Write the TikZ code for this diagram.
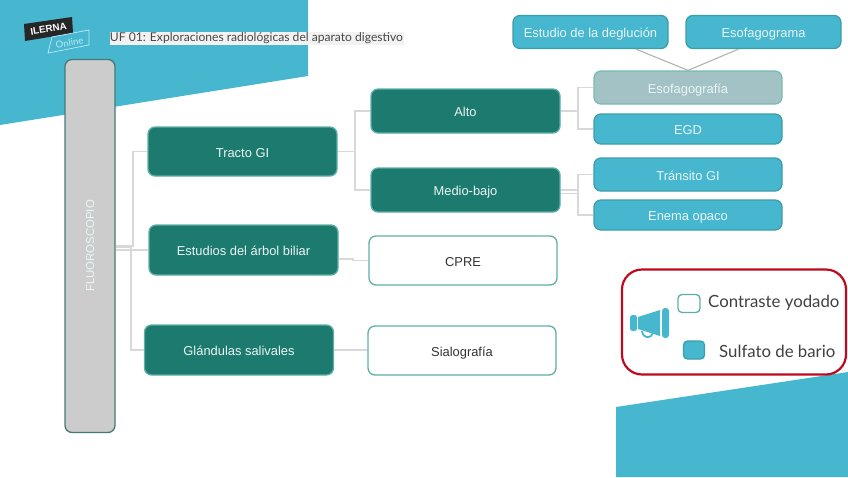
\documentclass[tikz,border=0pt]{standalone}
\usepackage{fontspec}
\setmainfont{Liberation Sans}
\newfontfamily\latof{Lato}
\usetikzlibrary{calc}
\definecolor{cyanbg}{HTML}{47B7CF}
\definecolor{tealbox}{HTML}{1D7A6E}
\definecolor{tealline}{HTML}{5FAFA6}
\definecolor{blueline}{HTML}{3A9FA8}
\definecolor{conngrey}{HTML}{D8D8D8}
\definecolor{txtlight}{HTML}{EAF5F5}
\definecolor{greyblue}{HTML}{A2C2C6}
\definecolor{legendred}{HTML}{BE0A1E}
\tikzset{
  x=1pt,y=-1pt,
  anybox/.style={rounded corners=7pt,line width=1.3pt,inner sep=0pt,text height=12pt,text depth=1pt,font=\fontsize{12.9}{14}\selectfont,text=txtlight},
  darkbox/.style={anybox,draw=tealline,fill=tealbox,minimum width=189pt},
  bluebox/.style={anybox,draw=blueline,fill=cyanbg,minimum width=188pt},
  whitebox/.style={anybox,draw=tealline,fill=white,minimum width=188pt,text=black!80,minimum height=49pt},
  conn/.style={draw=conngrey,line width=1.8pt},
  legendtxt/.style={font=\latof\fontsize{16.8}{18}\selectfont,text=black!75,inner sep=0pt}
}
\begin{document}
\begin{tikzpicture}
\useasboundingbox (0,0) rectangle (848,477);
\fill[cyanbg] (0,0) -- (308,0) -- (308,76) -- (0,125) -- cycle;
\fill[cyanbg] (616,407) -- (848,372) -- (848,477) -- (616,477) -- cycle;
% logo
\fill[black!85] (24,24) -- (72,17) -- (73,33) -- (25,41) -- cycle;
\node[rotate=9,text=white,inner sep=0pt,font=\bfseries\fontsize{9.8}{11}\selectfont] (ilerna) at (48.5,29) {ILERNA};
\draw[draw=cyan!25,line width=.7pt] (52,37) -- (89,30) -- (89,45) -- (48,53) -- cycle;
\node[rotate=10,text=cyan!25,inner sep=0pt,font=\latof\fontsize{9.5}{10}\selectfont] (online) at (69.5,42.5) {Online};
% header
\node[fill=black!5,text=black!72,inner sep=0pt,anchor=center,font=\latof\fontsize{12.1}{13}\selectfont,minimum width=294pt,minimum height=13pt] (title) at (256.5,38.5) {UF 01: Exploraciones radiológicas del aparato digestivo};
% main boxes
\node[anybox,draw=tealline!70!black,fill=black!20,rotate=90,minimum width=373pt,minimum height=50pt,text height=9pt,text depth=1pt,font=\fontsize{11.4}{14}\selectfont] (flu) at (90,246) {FLUOROSCOPIO};
\node[darkbox,minimum height=49pt] (tracto) at (242.5,151.5) {Tracto GI};
\node[darkbox,minimum height=50pt] (biliar) at (243.5,250) {Estudios del árbol biliar};
\node[darkbox,minimum height=50pt] (glandulas) at (239,350) {Glándulas salivales};
\node[darkbox,minimum height=44pt] (alto) at (465.5,111) {Alto};
\node[darkbox,minimum height=44pt] (medio) at (465.5,190) {Medio-bajo};
\node[whitebox] (cpre) at (463,260.5) {CPRE};
\node[whitebox] (sialo) at (462,350.5) {Sialografía};
\node[bluebox,minimum width=155pt,minimum height=33pt] (deglucion) at (590.5,32) {Estudio de la deglución};
\node[bluebox,minimum width=155pt,minimum height=33pt] (esofagograma) at (763.5,32) {Esofagograma};
\node[bluebox,draw=tealline!85,fill=greyblue,minimum height=33pt] (esofagografia) at (688,87.5) {Esofagografía};
\node[bluebox,minimum height=30pt] (egd) at (688,129) {EGD};
\node[bluebox,minimum height=33pt] (transito) at (688,174.5) {Tránsito GI};
\node[bluebox,minimum height=30pt] (enema) at (688,215) {Enema opaco};
% connectors
\draw[conn] (flu.south) -- ++(17,0) |- (tracto.west);
\draw[conn] ([yshift=-4pt]flu.south) -- (biliar.west);
\draw[conn] ([yshift=-1pt]flu.south) -- ++(15,0) |- (glandulas.west);
\draw[conn] (tracto.east) -- ++(17,0) coordinate (j1) (j1) |- (alto.west) (j1) |- (medio.west);
\draw[conn] (alto.east) -- ++(17,0) coordinate (j2) (j2) |- (esofagografia.west) (j2) |- (egd.west);
\draw[conn] (medio.east) -- ++(17,0) coordinate (j3) (j3) |- (transito.west) (j3) |- (enema.west);
\draw[conn,line width=1pt] ([yshift=-3pt]medio.east) -- ++(17,0);
\draw[conn] ([yshift=-9pt]biliar.east) -- ++(14,0) |- (cpre.west);
\draw[conn] (glandulas.east) -- (glandulas.east -| sialo.west);
\draw[draw=black!30,line width=1.1pt] ([xshift=45.5pt]deglucion.south) -- (esofagografia.north);
\draw[draw=black!30,line width=1.1pt] ([xshift=-25pt]esofagograma.south) -- (esofagografia.north);
% legend
\node[draw=legendred,line width=2.2pt,rounded corners=20pt,minimum width=224pt,minimum height=105pt,inner sep=0pt] (legend) at (734,322) {};
\node[draw=tealline,fill=white,line width=1.3pt,rounded corners=4pt,minimum width=22pt,minimum height=18pt,inner sep=0pt] (swa) at (689,303.5) {};
\node[draw=blueline,fill=cyanbg,line width=1.3pt,rounded corners=4pt,minimum width=21pt,minimum height=18pt,inner sep=0pt] (swb) at (694,350) {};
\node[legendtxt,anchor=west] (lega) at (708,302.5) {Contraste yodado};
\node[legendtxt,anchor=west] (legb) at (719,351.5) {Sulfato de bario};
% megaphone
\fill[cyanbg,rounded corners=2.5pt] (630,315) rectangle (637,331);
\fill[cyanbg] (638,317) -- (660,310) -- (660,336) -- (638,329) -- cycle;
\fill[cyanbg,rounded corners=3pt] (662,308) rectangle (669,338);
\draw[cyanbg,line width=1.8pt] (642,331) .. controls (643,339) and (651,339) .. (653,333);
\end{tikzpicture}
\end{document}
